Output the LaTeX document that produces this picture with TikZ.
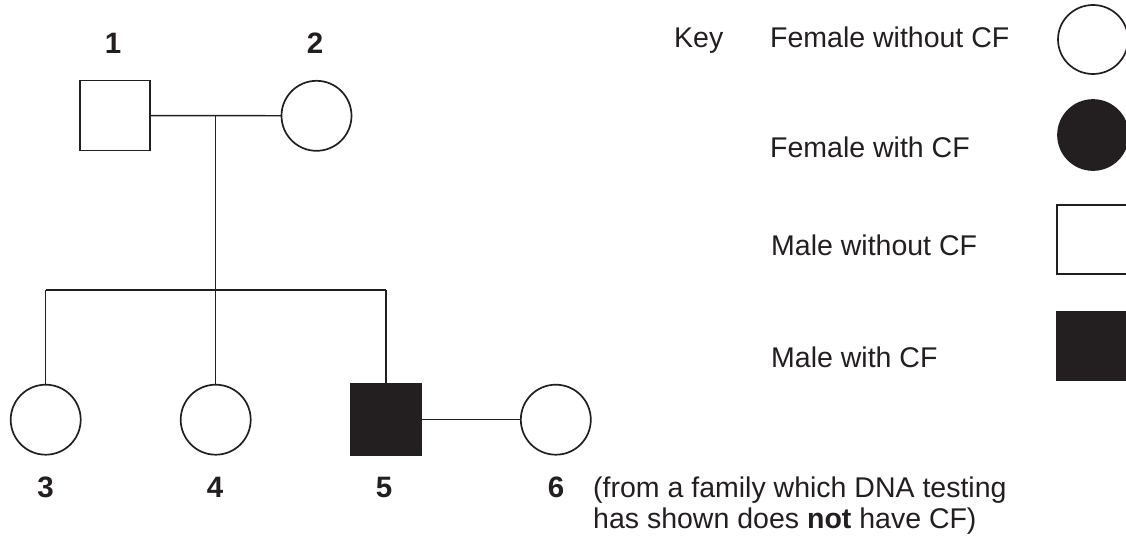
\documentclass[tikz,border=0pt]{standalone}
\usepackage{fontspec}
\setmainfont{Liberation Sans}
\usetikzlibrary{shapes.geometric}
\definecolor{ink}{HTML}{231F20}
\begin{document}
\begin{tikzpicture}[x=1pt,y=-1pt,
  shapeline/.style={draw=ink,line width=1.7pt,inner sep=0pt,outer sep=0pt},
  femopen/.style={shapeline,ellipse,fill=white,minimum width=70pt,minimum height=70pt},
  femfill/.style={shapeline,ellipse,fill=ink,minimum width=70pt,minimum height=70pt},
  maleopen/.style={shapeline,rectangle,fill=white,minimum width=70pt,minimum height=70pt},
  malefill/.style={shapeline,rectangle,fill=ink,minimum width=71pt,minimum height=71pt},
  link/.style={draw=ink,line width=1.45pt},
  numlabel/.style={anchor=base,inner sep=0pt,text=ink,font=\fontsize{29.5}{32}\selectfont\bfseries},
  keytext/.style={anchor=base west,inner sep=0pt,text=ink,font=\fontsize{28.5}{32}\selectfont}]
\useasboundingbox[fill=white] (0,0) rectangle (1126,538);
% generation I
\node[maleopen] (p1) at (115,115.5) {};
\node[femopen] (p2) at (316.5,115.8) {};
\node[numlabel] (l1) at (113,53) {1};
\node[numlabel] (l2) at (315,53) {2};
% generation II
\node[femopen] (p3) at (45.7,419.7) {};
\node[femopen] (p4) at (215.7,419.7) {};
\node[malefill] (p5) at (386,419.7) {};
\node[femopen] (p6) at (555.8,419.7) {};
\node[numlabel] (l3) at (45.7,497) {3};
\node[numlabel] (l4) at (215,497) {4};
\node[numlabel] (l5) at (384,497) {5};
\node[numlabel] (l6) at (556,497) {6};
% connectors
\coordinate (m) at (215.7,115.6);
\coordinate (s) at (215.7,290);
\draw[link] (p1) -- (p2);
\draw[link] (m) -- (s);
\draw[link] (p3.north |- s) -- (p5.north |- s);
\draw[link] (p3.north |- s) -- (p3.north);
\draw[link] (s) -- (p4.north);
\draw[link] (p5.north |- s) -- (p5.north);
\draw[link] (p5) -- (p6);
% note
\node[keytext] (n1) at (593,497) {(from a family which DNA testing};
\node[keytext] (n2) at (593,528.5) {has shown does \textbf{not} have CF)};
% key
\node[keytext] (key) at (674,47) {Key};
\node[keytext] (k1t) at (770,47) {Female without CF};
\node[keytext] (k2t) at (770,157) {Female with CF};
\node[keytext] (k3t) at (771,255) {Male without CF};
\node[keytext] (k4t) at (771,367) {Male with CF};
\node[femopen,minimum height=69pt] (k1) at (1093,39.5) {};
\node[femfill] (k2) at (1093,135) {};
\node[maleopen,minimum height=69pt] (k3) at (1092,239.5) {};
\node[malefill,minimum width=70pt,minimum height=68pt] (k4) at (1092,346) {};
\end{tikzpicture}
\end{document}
